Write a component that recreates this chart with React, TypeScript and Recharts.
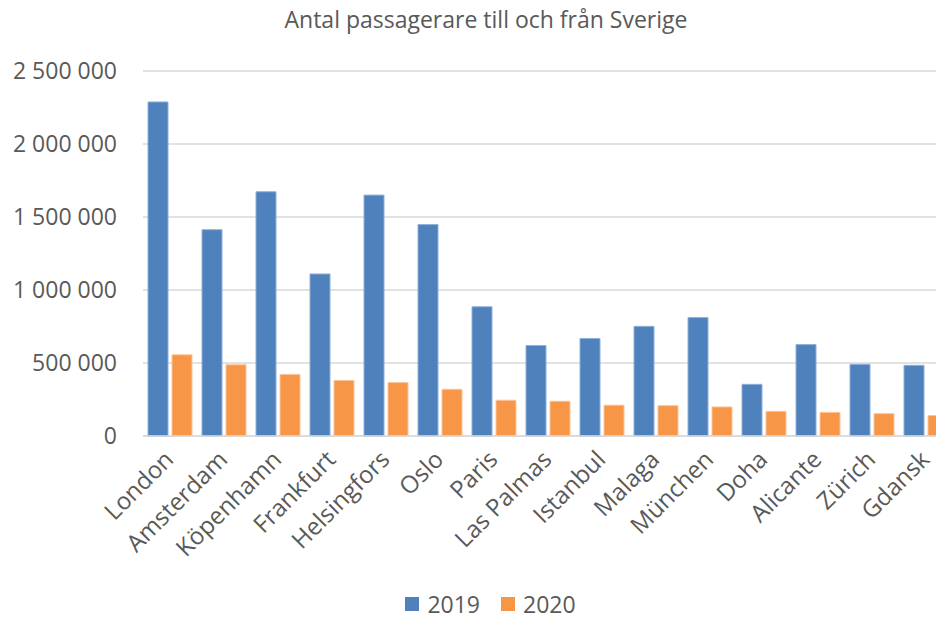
import React from "react";
import { BarChart, Bar, XAxis, YAxis, CartesianGrid, Legend } from "recharts";

const cities = ["London", "Amsterdam", "Köpenhamn", "Frankfurt", "Helsingfors", "Oslo", "Paris", "Las Palmas", "Istanbul", "Malaga", "München", "Doha", "Alicante", "Zürich", "Gdansk"];
const values2019 = [2288000, 1413000, 1673000, 1110000, 1650000, 1448000, 885000, 620000, 668000, 751000, 811000, 354000, 626000, 491000, 484000];
const values2020 = [556000, 488000, 422000, 380000, 366000, 320000, 245000, 238000, 211000, 208000, 199000, 169000, 162000, 153000, 140000];
const yTicks = [0, 500000, 1000000, 1500000, 2000000, 2500000];
const title = "Antal passagerare till och från Sverige";

const data = cities.map((c, i) => ({ city: c, y2019: values2019[i], y2020: values2020[i] }));

const FONT = "'Open Sans', 'Noto Sans', sans-serif";
const TEXT = "#595959";
const BLUE = "#4F81BD";
const ORANGE = "#F79646";

const fmt = (v: number) => String(v).replace(/\B(?=(\d{3})+(?!\d))/g, " ");

const XTick = (props: any) => {
  const { x, y, payload } = props;
  const ax = x + 5;
  const ay = y + 17;
  return (
    <text x={ax} y={ay} transform={`rotate(-45 ${ax} ${ay})`} textAnchor="end" fill={TEXT} fontSize={24} fontFamily={FONT}>
      {payload.value}
    </text>
  );
};

const LegendContent = () => (
  <div style={{ display: "flex", justifyContent: "center", alignItems: "center", fontFamily: FONT, fontSize: 23, lineHeight: "26px", color: TEXT, paddingTop: 8, paddingLeft: 28, height: 26 }}>
    <span style={{ display: "inline-block", width: 14, height: 14, background: BLUE, marginRight: 8 }} />
    <span style={{ marginRight: 21 }}>2019</span>
    <span style={{ display: "inline-block", width: 14, height: 14, background: ORANGE, marginRight: 8 }} />
    <span>2020</span>
  </div>
);

export default function App() {
  return (
    <div style={{ position: "absolute", left: 0, top: 0, width: 936, height: 623, overflow: "hidden", background: "#fff" }}>
      <div style={{ position: "relative", width: 972, height: 623 }}>
        <div style={{ position: "absolute", top: 3, left: 0, width: 972, textAlign: "center", fontFamily: FONT, fontSize: 23, color: TEXT }}>
          {title}
        </div>
        <BarChart width={972} height={623} data={data} margin={{ top: 71, right: 19, left: 0, bottom: 0 }} barCategoryGap="9%" barGap={4}>
          <CartesianGrid vertical={false} stroke="#d9d9d9" strokeWidth={1.5} />
          <XAxis dataKey="city" interval={0} tick={<XTick />} tickLine={false} axisLine={{ stroke: "#d9d9d9", strokeWidth: 1.5 }} height={147} />
          <YAxis width={143} domain={[0, 2500000]} ticks={yTicks} tickFormatter={fmt} axisLine={false} tickLine={false} tickMargin={20} tick={{ fill: TEXT, fontSize: 23, fontFamily: FONT }} />
          <Legend verticalAlign="bottom" height={40} content={<LegendContent />} />
          <Bar dataKey="y2019" name="2019" fill={BLUE} stroke="#8fb0d8" strokeWidth={1} barSize={20} isAnimationActive={false} />
          <Bar dataKey="y2020" name="2020" fill={ORANGE} stroke="#fbc59b" strokeWidth={1} barSize={20} isAnimationActive={false} />
        </BarChart>
      </div>
    </div>
  );
}
